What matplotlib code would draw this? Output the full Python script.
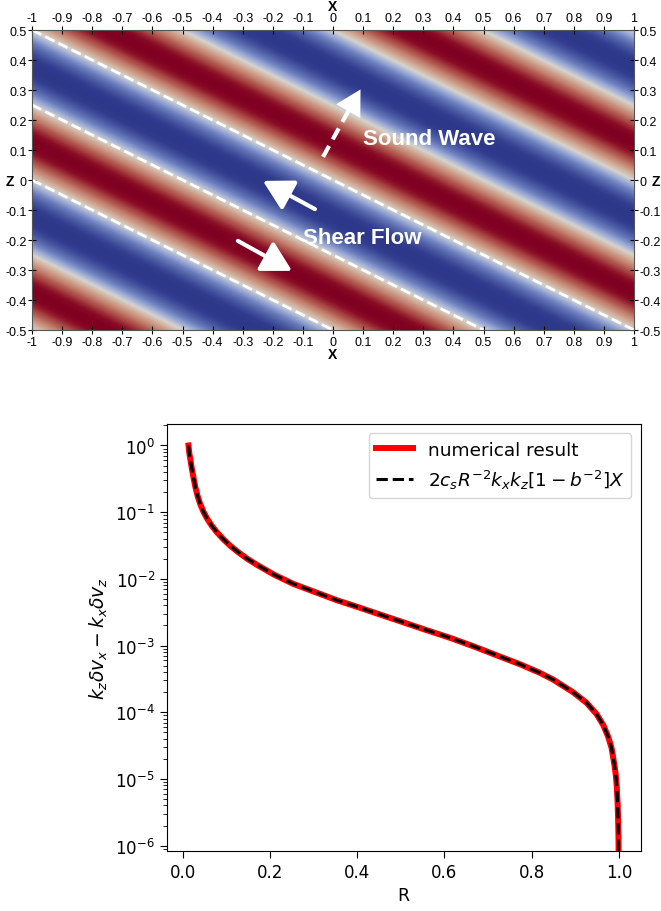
import numpy as np
import matplotlib
matplotlib.use('Agg')
import matplotlib.pyplot as plt
from matplotlib.colors import LinearSegmentedColormap

plt.rcParams['axes.unicode_minus'] = False

# wave field in the top panel: sin(kx*x + kz*z)
kx = 2 * np.pi
kz = 4 * np.pi
x_ticks = [-1, -0.9, -0.8, -0.7, -0.6, -0.5, -0.4, -0.3, -0.2, -0.1, 0,
           0.1, 0.2, 0.3, 0.4, 0.5, 0.6, 0.7, 0.8, 0.9, 1]
z_ticks = [-0.5, -0.4, -0.3, -0.2, -0.1, 0, 0.1, 0.2, 0.3, 0.4, 0.5]

# white dashed phase lines (start / end points)
line_x0 = [-1, -1, -1]
line_z0 = [0.5, 0.25, 0.0]
line_x1 = [1, 0.5, 0.0]
line_z1 = [-0.5, -0.5, -0.5]

# arrows: tail -> tip
sound_tail = (-0.033, 0.077)
sound_tip = (0.096, 0.31)
shear_up_tail = (-0.06, -0.097)
shear_up_tip = (-0.233, -0.003)
shear_dn_tail = (-0.316, -0.203)
shear_dn_tip = (-0.136, -0.303)

# bottom panel curve (log10 of the value)
R = [0.013, 0.015, 0.018, 0.021, 0.025, 0.029, 0.034, 0.040, 0.047, 0.056,
     0.066, 0.078, 0.092, 0.108, 0.127, 0.148, 0.170, 0.210, 0.253, 0.300,
     0.353, 0.400, 0.468, 0.498, 0.550, 0.613, 0.670, 0.727, 0.773, 0.819,
     0.849, 0.895, 0.926, 0.949, 0.964, 0.975, 0.983, 0.990, 0.993, 0.995,
     0.997, 0.998, 0.999, 0.9995]
log_dv = [0.0, -0.12, -0.24, -0.36, -0.50, -0.63, -0.76, -0.88, -0.99, -1.10,
          -1.20, -1.30, -1.40, -1.50, -1.60, -1.70, -1.79, -1.94, -2.075, -2.19,
          -2.32, -2.42, -2.57, -2.635, -2.75, -2.885, -3.02, -3.165, -3.28, -3.41,
          -3.51, -3.70, -3.86, -4.03, -4.19, -4.36, -4.53, -4.80, -4.95, -5.10,
          -5.35, -5.55, -5.85, -6.2]
dv = 10.0 ** np.array(log_dv)

cmap = LinearSegmentedColormap.from_list('bwr_pv', [
    (0.00, (0.18, 0.22, 0.54)), (0.04, (0.20, 0.24, 0.56)),
    (0.12, (0.28, 0.34, 0.63)), (0.25, (0.42, 0.49, 0.74)),
    (0.38, (0.62, 0.68, 0.84)), (0.50, (0.84, 0.83, 0.81)),
    (0.62, (0.82, 0.68, 0.60)), (0.75, (0.76, 0.50, 0.43)),
    (0.88, (0.65, 0.26, 0.25)), (0.96, (0.54, 0.05, 0.15)),
    (1.00, (0.50, 0.0, 0.13))])

fig = plt.figure(figsize=(6.61, 9.12), dpi=100)

# ---- top panel ----
ax = fig.add_axes([32/661, 1-331/912, 602/661, 300/912])
xg = np.linspace(-1, 1, 800)
zg = np.linspace(-0.5, 0.5, 400)
X, Z = np.meshgrid(xg, zg)
field = np.sin(kx*X + kz*Z)
ax.imshow(field, extent=(-1, 1, -0.5, 0.5), origin='lower', cmap=cmap,
          aspect='auto', interpolation='bilinear')
for i in range(len(line_x0)):
    ax.plot([line_x0[i], line_x1[i]], [line_z0[i], line_z1[i]], '--',
            color='white', lw=2)

# dashed sound wave arrow
ax.plot([sound_tail[0], sound_tip[0] - 0.03], [sound_tail[1], sound_tip[1] - 0.053],
        '--', color='white', lw=3, dashes=(3, 1.8))
ax.annotate('', xy=sound_tip, xytext=(sound_tip[0] - 0.03, sound_tip[1] - 0.053),
            arrowprops=dict(arrowstyle='-|>,head_length=0.9,head_width=0.5',
                            color='white', lw=0, mutation_scale=20))
for tail, tip in [(shear_up_tail, shear_up_tip), (shear_dn_tail, shear_dn_tip)]:
    ax.annotate('', xy=tip, xytext=tail,
                arrowprops=dict(arrowstyle='-|>,head_length=0.9,head_width=0.5',
                                color='white', lw=3, mutation_scale=20,
                                shrinkA=0, shrinkB=0))
ax.text(0.10, 0.137, 'Sound Wave', color='white', fontsize=16, fontweight='bold',
        family='Liberation Sans', va='center', ha='left')
ax.text(-0.10, -0.19, 'Shear Flow', color='white', fontsize=16, fontweight='bold',
        family='Liberation Sans', va='center', ha='left')

ax.set_xlim(-1, 1)
ax.set_ylim(-0.5, 0.5)
ax.set_xticks(x_ticks)
ax.set_xticklabels(['%g' % v for v in x_ticks], family='Liberation Sans', fontsize=9)
ax.set_yticks(z_ticks)
ax.set_yticklabels(['%g' % v for v in z_ticks], family='Liberation Sans', fontsize=9)
ax.tick_params(direction='inout', length=6, width=0.8, pad=1,
               top=True, bottom=True, left=True, right=True,
               labeltop=True, labelbottom=True, labelleft=True, labelright=True)
for s in ax.spines.values():
    s.set_linewidth(0.8)
    s.set_color('#555555')
lab = dict(family='Liberation Sans', fontsize=10, fontweight='bold',
           xycoords='axes fraction', textcoords='offset points',
           ha='center', va='center')
ax.annotate('X', xy=(0.5, 1), xytext=(0, 17), **lab)
ax.annotate('X', xy=(0.5, 0), xytext=(0, -17.5), **lab)
ax.annotate('Z', xy=(0, 0.5), xytext=(-16, -1), **lab)
ax.annotate('Z', xy=(1, 0.5), xytext=(16, -1), **lab)

# ---- bottom panel ----
ax2 = fig.add_axes([166.7/661, 1-852/912, 474/661, 427/912])
ax2.plot(R, dv, color='red', lw=4.3, label='numerical result')
ax2.plot(R, dv, '--', color='black', lw=2.2,
         label=r'$2c_sR^{-2}k_xk_z[1-b^{-2}]X$')
ax2.set_yscale('log')
ax2.set_xlim(-0.037, 1.05)
ax2.set_ylim(8.3e-7, 2.1)
ax2.set_xticks([0.0, 0.2, 0.4, 0.6, 0.8, 1.0])
ax2.tick_params(labelsize=12, length=5)
ax2.tick_params(which='minor', length=2.8)
ax2.set_xlabel('R', fontsize=12.5)
ax2.set_ylabel(r'$k_z\delta v_x - k_x\delta v_z$', fontsize=13.5)
ax2.legend(loc='upper right', fontsize=13.3)

fig.savefig('out.png', dpi=100)
